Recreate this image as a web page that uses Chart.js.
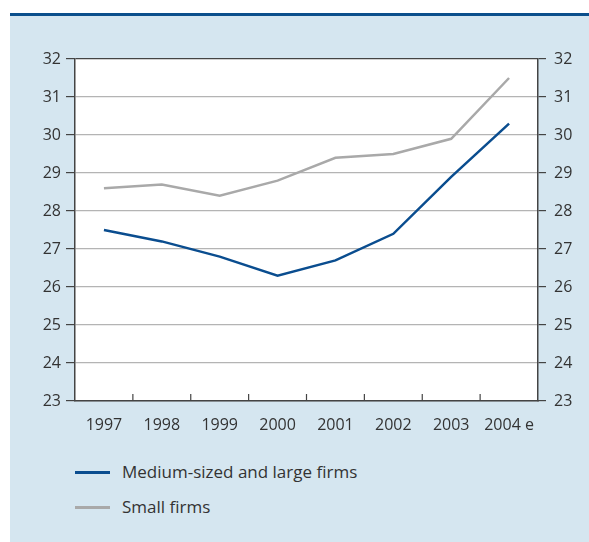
<!DOCTYPE html>
<html>
<head>
<meta charset="utf-8">
<script src="https://cdn.jsdelivr.net/npm/chart.js@4/dist/chart.umd.min.js"></script>
<style>
    body { margin: 0; background: #fff; font-family: 'Open Sans', sans-serif; }
    .topRule { position: absolute; left: 10px; top: 13px; width: 579px; height: 3px; background: #0b4f8c; }
    .panel { position: absolute; left: 10px; top: 16px; width: 579px; height: 526px; background: #d5e6f0; }
    #chart { position: absolute; left: 0; top: 0; }
    .legend { position: absolute; left: 65px; top: 445px; }
    .legendItem { position: relative; height: 35px; }
    .legendItem span.swatch { position: absolute; left: 0; top: 10px; width: 35px; height: 3px; }
    .legendItem span.text { position: absolute; left: 47px; top: -1px; font-size: 17px; line-height: 24px; color: #333; white-space: nowrap; }
</style>
</head>
<body>
<div class="topRule"></div>
<div class="panel">
    <canvas id="chart" width="579" height="421"></canvas>
    <div class="legend" id="legend"></div>
</div>
<script>
const years = ['1997', '1998', '1999', '2000', '2001', '2002', '2003', '2004 e'];
const largeFirms = [27.5, 27.2, 26.8, 26.3, 26.7, 27.4, 28.9, 30.3];
const smallFirms = [28.6, 28.7, 28.4, 28.8, 29.4, 29.5, 29.9, 31.5];

const seriesNames = ['Medium-sized and large firms', 'Small firms'];
const seriesColors = ['#0a4d8f', '#a9a9a9'];

const axisColor = '#444';
const gridColor = '#b4b4b4';
const textColor = '#333';
const tickFont = {family: "'Open Sans', sans-serif", size: 16};

// white plot area + small inward ticks between the years
const plotFrame = {
    id: 'plotFrame',
    beforeDraw(chart) {
        const a = chart.chartArea;
        const ctx = chart.ctx;
        ctx.save();
        ctx.fillStyle = '#fff';
        ctx.fillRect(a.left, a.top, a.right - a.left, a.bottom - a.top);
        ctx.restore();
    },
    afterDraw(chart) {
        const x = chart.scales.x;
        const ctx = chart.ctx;
        ctx.save();
        ctx.strokeStyle = axisColor;
        ctx.lineWidth = 1.2;
        for (let i = 1; i < years.length; i++) {
            const px = (x.getPixelForTick(i - 1) + x.getPixelForTick(i)) / 2;
            ctx.beginPath();
            ctx.moveTo(px, x.top);
            ctx.lineTo(px, x.top - 7);
            ctx.stroke();
        }
        ctx.restore();
    }
};

new Chart(document.getElementById('chart'), {
    type: 'line',
    data: {
        labels: years,
        datasets: [{
            label: seriesNames[0],
            data: largeFirms,
            borderColor: seriesColors[0],
            borderWidth: 2.5,
            pointRadius: 0,
            tension: 0
        }, {
            label: seriesNames[1],
            data: smallFirms,
            borderColor: seriesColors[1],
            borderWidth: 2.5,
            pointRadius: 0,
            tension: 0
        }]
    },
    options: {
        responsive: false,
        animation: false,
        layout: {
            padding: {top: 43, left: 0, right: 0, bottom: 0}
        },
        plugins: {
            legend: {display: false},
            tooltip: {enabled: false}
        },
        scales: {
            x: {
                offset: true,
                grid: {display: false, drawTicks: false},
                border: {display: true, color: axisColor, width: 1.5},
                ticks: {font: tickFont, color: textColor, padding: 15, maxRotation: 0},
                afterFit(scale) { scale.height = 36; }
            },
            y: {
                position: 'left',
                min: 23,
                max: 32,
                grid: {
                    color: ctx => ctx.tick && ctx.tick.value === 32 ? axisColor : gridColor,
                    lineWidth: 1.2,
                    tickColor: axisColor,
                    tickLength: 9
                },
                border: {display: true, color: axisColor, width: 1.5},
                ticks: {stepSize: 1, font: tickFont, color: textColor, padding: 5},
                afterFit(scale) { scale.width = 65; }
            },
            y2: {
                position: 'right',
                min: 23,
                max: 32,
                grid: {drawOnChartArea: false, tickColor: axisColor, tickLength: 8, lineWidth: 1.2},
                border: {display: true, color: axisColor, width: 1.5},
                ticks: {stepSize: 1, font: tickFont, color: textColor, padding: 8},
                afterFit(scale) { scale.width = 51; }
            }
        }
    },
    plugins: [plotFrame]
});

// legend, one series per row
const legend = document.getElementById('legend');
for (let i = 0; i < seriesNames.length; i++) {
    const item = document.createElement('div');
    item.className = 'legendItem';
    item.innerHTML = '<span class="swatch" style="background:' + seriesColors[i] + '"></span>' +
        '<span class="text">' + seriesNames[i] + '</span>';
    legend.appendChild(item);
}
</script>
</body>
</html>
